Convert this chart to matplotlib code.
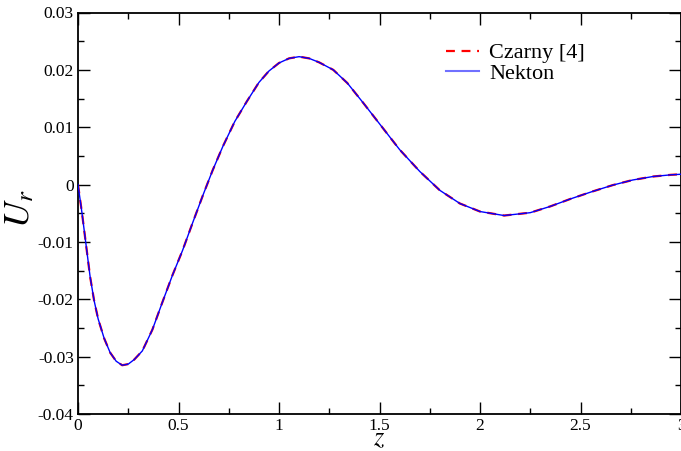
import matplotlib
matplotlib.use("Agg")
import matplotlib.pyplot as plt
from matplotlib.ticker import MultipleLocator

# radial velocity profile (both curves coincide)
z = [0.00, 0.02, 0.04, 0.06, 0.08, 0.10, 0.13, 0.16, 0.19, 0.22, 0.25, 0.28,
     0.32, 0.37, 0.42, 0.47, 0.52, 0.57, 0.62, 0.67, 0.72, 0.78, 0.84, 0.90,
     0.95, 1.00, 1.05, 1.10, 1.15, 1.20, 1.27, 1.34, 1.42, 1.50, 1.60, 1.70,
     1.80, 1.90, 2.00, 2.12, 2.25, 2.35, 2.45, 2.56, 2.66, 2.76, 2.86, 2.95,
     3.00]
u_czarny = [0.0000, -0.0050, -0.0105, -0.0160, -0.0202, -0.0234, -0.0268,
            -0.0293, -0.0308, -0.0315, -0.0313, -0.0305, -0.0290, -0.0253,
            -0.0205, -0.0158, -0.0115, -0.0067, -0.0020, 0.0025, 0.0066,
            0.0110, 0.0145, 0.0178, 0.0198, 0.0212, 0.0220, 0.0223, 0.0220,
            0.0213, 0.0200, 0.0177, 0.0142, 0.0106, 0.0061, 0.0023, -0.0010,
            -0.0033, -0.0047, -0.0054, -0.0049, -0.0038, -0.0025, -0.0012,
            -0.0001, 0.0008, 0.0014, 0.0017, 0.0018]
u_nekton = list(u_czarny)

plt.rcParams["font.family"] = ["Liberation Serif", "DejaVu Serif"]
plt.rcParams["mathtext.fontset"] = "stix"

fig = plt.figure(figsize=(6.81, 4.51), dpi=100)
ax = fig.add_axes([78 / 681, 1 - 414 / 451, 603 / 681, 401.5 / 451])

ax.plot(z, u_czarny, color="red", ls=(0, (4, 3)), lw=1.6, zorder=2,
        label="Czarny [4]")
ax.plot(z, u_nekton, color="blue", lw=1.0, zorder=3)
# legend handle for Nekton is drawn lighter in the reference
ax.plot([], [], color="#7070ff", lw=1.5, label="Nekton")

ax.set_xlim(0, 3)
ax.set_ylim(-0.04, 0.03)
ax.xaxis.set_major_locator(MultipleLocator(0.5))
ax.xaxis.set_minor_locator(MultipleLocator(0.25))
ax.yaxis.set_major_locator(MultipleLocator(0.01))
ax.yaxis.set_minor_locator(MultipleLocator(0.005))
ax.xaxis.set_major_formatter(plt.FuncFormatter(lambda v, p: f"{v:g}"))
ax.yaxis.set_major_formatter(plt.FuncFormatter(lambda v, p: f"{v:.2f}" if abs(v) > 1e-9 else "0"))

ax.tick_params(which="both", direction="in", top=True, right=True,
               labelsize=12.5, width=1.0, pad=3)
ax.tick_params(which="major", length=8.5)
ax.tick_params(which="minor", length=4.3)
for s in ax.spines.values():
    s.set_linewidth(1.3)

ax.set_xlabel(r"$z$", fontsize=19)
ax.xaxis.set_label_coords(0.5, -0.036)
ax.set_ylabel(r"$U_r$", fontsize=26)
ax.yaxis.set_label_coords(-0.068, 0.51)

ax.legend(loc="upper right", bbox_to_anchor=(0.866, 0.963), frameon=False,
          fontsize=16, handlelength=1.5, handletextpad=0.45,
          labelspacing=0.0, borderpad=0.2)

fig.savefig("out.png", dpi=100)
